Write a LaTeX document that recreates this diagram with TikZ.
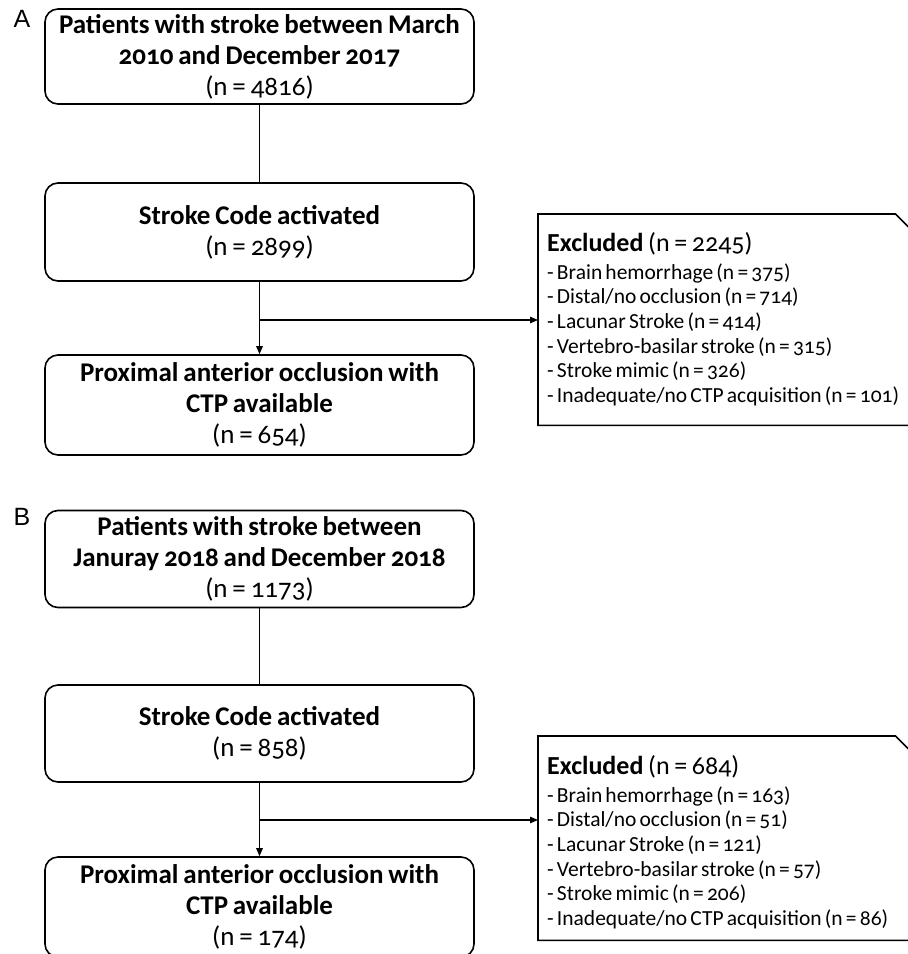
\documentclass[tikz,border=0pt]{standalone}
\usepackage{fontspec}
\setmainfont{Carlito}[Numbers=OldStyle]
\newfontfamily\panelfont{Liberation Sans}
\usetikzlibrary{arrows.meta}
\newcommand{\boxfont}{\fontsize{27}{31}\selectfont\spaceskip=0.18em plus 0.05em minus 0.02em\relax}
\newcommand{\itemfont}{\fontsize{21.5}{24.6}\selectfont\spaceskip=0.15em plus 0.05em minus 0.02em\relax}
\newcommand{\exhead}[1]{{\fontsize{26}{28}\selectfont\spaceskip=0.18em\relax\textbf{Excluded} #1\par}\vspace{3.4pt}\itemfont}
\tikzset{
  flowbox/.style={draw=black, rounded corners=13pt, line width=1.6pt,
    minimum width=429pt, align=center, inner sep=0pt, font=\boxfont},
  exframe/.style={draw=none, anchor=north west, minimum width=392pt, inner sep=0pt},
  exborder/.style={draw=black, line width=1.6pt, line join=miter},
  extext/.style={anchor=north west, inner sep=0pt, text width=370pt, align=left,
    font=\itemfont},
  link/.style={draw=black, line width=1.2pt},
  arrowlink/.style={link, -{Triangle[length=8pt,width=6.5pt]}},
  panel/.style={inner sep=0pt, font=\panelfont\fontsize{25}{25}\selectfont}
}
\begin{document}
\begin{tikzpicture}[x=1pt,y=-1pt]
\useasboundingbox (0,0) rectangle (908,954);
\clip (0,0) rectangle (908,954);
\fill[white] (0,0) rectangle (908,954);

% Panel A
\node[panel] (labA) at (22,19) {A};
\node[flowbox, minimum height=95pt] (A1) at (259.5,56.5)
  {\textbf{Patients with stroke between March}\\\textbf{2010 and December 2017}\\(n = 4816)};
\node[flowbox, minimum height=98pt] (A2) at (259.5,232)
  {\textbf{Stroke Code activated}\\(n = 2899)};
\node[flowbox, minimum height=100pt] (A3) at (259.5,405)
  {\textbf{Proximal anterior occlusion with}\\\textbf{CTP available}\\(n = 654)};
\node[exframe, minimum height=211pt] (exA) at (538,214) {};
\draw[exborder] (exA.south east) -- (exA.south west) -- (exA.north west)
  -- ([xshift=-35pt]exA.north east) -- ([yshift=-35pt]exA.north east);
\node[extext] (exAtext) at (547,232)
  {\exhead{(n = 2245)}
   - Brain hemorrhage (n = 375)\\
   - Distal/no occlusion (n = 714)\\
   - Lacunar Stroke (n = 414)\\
   - Vertebro-basilar stroke (n = 315)\\
   - Stroke mimic (n = 326)\\
   - Inadequate/no CTP acquisition (n = 101)};
\coordinate (brA) at (259.5,320);
\draw[link] (A1) -- (A2);
\draw[arrowlink] (A2) -- (A3);
\draw[arrowlink] (brA) -- (brA -| exA.west);

% Panel B
\node[panel] (labB) at (22,517) {B};
\node[flowbox, minimum height=97pt] (B1) at (259.5,559)
  {\textbf{Patients with stroke between}\\\textbf{Januray 2018 and December 2018}\\(n = 1173)};
\node[flowbox, minimum height=97pt] (B2) at (259.5,733.5)
  {\textbf{Stroke Code activated}\\(n = 858)};
\node[flowbox, minimum height=100pt] (B3) at (259.5,907)
  {\textbf{Proximal anterior occlusion with}\\\textbf{CTP available}\\(n = 174)};
\node[exframe, minimum height=204pt] (exB) at (538,736) {};
\draw[exborder] (exB.south east) -- (exB.south west) -- (exB.north west)
  -- ([xshift=-35pt]exB.north east) -- ([yshift=-35pt]exB.north east);
\node[extext] (exBtext) at (547,755)
  {\exhead{(n = 684)}
   - Brain hemorrhage (n = 163)\\
   - Distal/no occlusion (n = 51)\\
   - Lacunar Stroke (n = 121)\\
   - Vertebro-basilar stroke (n = 57)\\
   - Stroke mimic (n = 206)\\
   - Inadequate/no CTP acquisition (n = 86)};
\coordinate (brB) at (259.5,820);
\draw[link] (B1) -- (B2);
\draw[arrowlink] (B2) -- (B3);
\draw[arrowlink] (brB) -- (brB -| exB.west);
\end{tikzpicture}
\end{document}
